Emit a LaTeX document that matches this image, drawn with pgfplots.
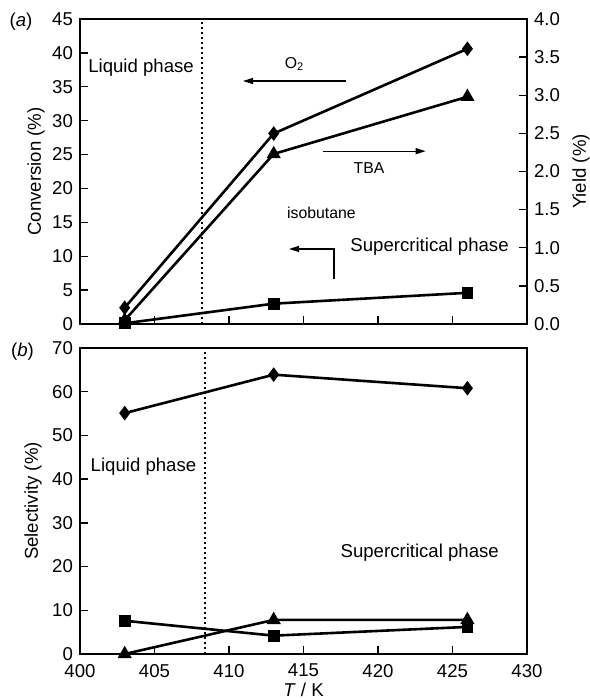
\documentclass[border=0pt]{standalone}
\usepackage{fontspec}
\setmainfont{Liberation Sans}
\usepackage{pgfplots}
\pgfplotsset{compat=1.18}
\usetikzlibrary{arrows.meta}

\newcommand{\bigf}{\fontsize{9.3}{11}\selectfont}
\newcommand{\smallf}{\fontsize{7.9}{9.5}\selectfont}

\tikzset{arr/.style={line width=0.6pt, -{Triangle[length=5pt,width=3pt]}}}

\pgfplotsset{
  panel/.style={
    scale only axis, width=223.5pt,
    xmin=400, xmax=430, xtick={400,405,...,430},
    tick align=inside, major tick length=4pt,
    axis line style={line width=0.7pt},
    every tick/.style={line width=0.7pt, black},
    tick label style={font=\bigf},
    label style={font=\bigf},
    /pgf/number format/assume math mode=true,
    clip=false,
  },
  ser/.style={black, line width=1.3pt, mark options={solid}},
  dia/.style={ser, mark=diamond*, mark size=2.6pt},
  sq/.style={ser, mark=square*, mark size=2.3pt},
  tri/.style={ser, mark=triangle*, mark size=2.8pt},
  vline/.style={black, line width=0.9pt, dash pattern=on 0.9pt off 1.6pt},
}

\begin{document}
\begin{tikzpicture}
\path[use as bounding box] (-40pt,-22.5pt) rectangle (254.5pt,327pt);

% (b) selectivity
\begin{axis}[panel, at={(0,0)}, anchor=south west, height=153pt,
  ymin=0, ymax=70, ytick={0,10,...,70},
  xtick pos=bottom, ytick pos=left,
  xticklabel style={yshift=-1.5pt},
  xlabel={\textit{T} / K}, ylabel={Selectivity (\%)},
  x label style={at={(axis description cs:0.5,0)}, anchor=center, yshift=-18pt},
  y label style={at={(axis description cs:-0.105,0.5)}, anchor=center},
]
  \addplot[vline] coordinates {(408.4,0) (408.4,70)};
  \addplot[dia] coordinates {(403,55.1) (413,63.9) (426,60.8)};
  \addplot[sq] coordinates {(403,7.6) (413,4.2) (426,6.2)};
  \addplot[tri] coordinates {(403,0) (413,7.8) (426,7.8)};
  \node[font=\bigf] at (axis cs:404.26,42.8) {Liquid phase};
  \node[font=\bigf] at (axis cs:422.8,23.1) {Supercritical phase};
  \node[font=\bigf] at (axis description cs:0,1) [xshift=-28.75pt, yshift=-2pt] {(\textit{b})};
\end{axis}

% (a) conversion, left axis
\begin{axis}[panel, at={(0,165pt)}, anchor=south west, height=152.5pt,
  ymin=0, ymax=45, ytick={0,5,...,45},
  xtick pos=bottom, ytick pos=left, xticklabels={},
  ylabel={Conversion (\%)},
  y label style={at={(axis description cs:-0.0984,0.5)}, anchor=center},
]
  \addplot[vline] coordinates {(408.2,0) (408.2,45)};
  \addplot[dia] coordinates {(403,2.4) (413,28.1) (426,40.6)};
  \addplot[sq] coordinates {(403,0.1) (413,3.0) (426,4.6)};
  \node[font=\bigf] at (axis cs:404.1,37.8) {Liquid phase};
  \node[font=\bigf] at (axis cs:423.46,11.36) {Supercritical phase};
  \node[font=\smallf] at (axis cs:414.4,38.4) {O\textsubscript{2}};
  \draw[arr] (axis cs:417.85,35.85) -- (axis cs:410.94,35.85);
  \node[font=\smallf] at (axis cs:419.4,23.0) {TBA};
  \draw[arr] (axis cs:416.3,25.5) -- (axis cs:423.2,25.5);
  \node[font=\smallf] at (axis cs:416.2,16.4) {isobutane};
  \draw[arr] (axis cs:417.05,6.64) -- (axis cs:417.05,11.07) -- (axis cs:414.03,11.07);
  \node[font=\bigf] at (axis description cs:0,1) [xshift=-29.5pt, yshift=-1.5pt] {(\textit{a})};
\end{axis}

% (a) yield, right axis
\begin{axis}[panel, at={(0,165pt)}, anchor=south west, height=152.5pt,
  ymin=0, ymax=4, ytick={0,0.5,...,4},
  axis y line*=right, axis x line=none,
  yticklabel style={/pgf/number format/.cd, fixed, fixed zerofill, precision=1},
  ylabel={Yield (\%)},
  y label style={at={(axis description cs:1.121,0.5)}, anchor=center},
]
  \addplot[tri] coordinates {(403,0.05) (413,2.23) (426,2.98)};
\end{axis}
\end{tikzpicture}
\end{document}
